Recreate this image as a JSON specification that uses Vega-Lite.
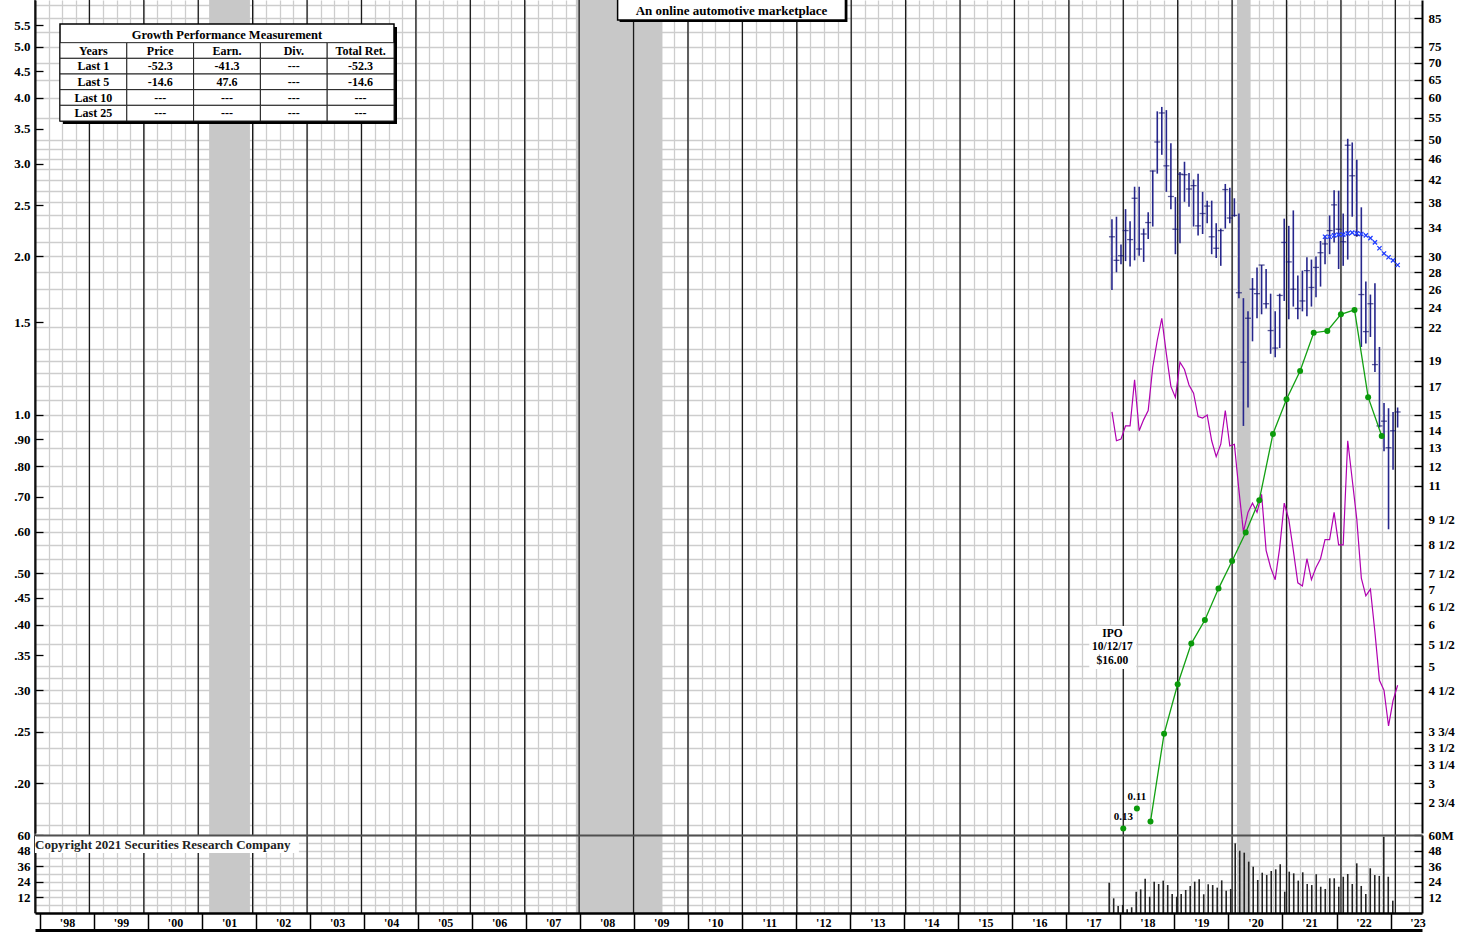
{
  "$schema": "https://vega.github.io/schema/vega-lite/v6.json",
  "width": 1387,
  "height": 913,
  "autosize": "none",
  "padding": {"left": 35, "top": 0, "right": 53, "bottom": 22},
  "background": "white",
  "config": {
    "view": {"stroke": null},
    "font": "Liberation Serif",
    "axis": {"labelFont": "Liberation Serif", "labelFontWeight": "bold", "labelFontSize": 13, "labelColor": "black", "labelOverlap": false, "labelFlush": false, "labelBound": false, "title": null}
  },
  "datasets": {
    "one": [{}],
    "bands": [{"start": 2001.2, "end": 2001.95}, {"start": 2007.94, "end": 2009.53}, {"start": 2020.09, "end": 2020.34}],
    "years": [{"year": 1998},{"year": 1999},{"year": 2000},{"year": 2001},{"year": 2002},{"year": 2003},{"year": 2004},{"year": 2005},{"year": 2006},{"year": 2007},{"year": 2008},{"year": 2009},{"year": 2010},{"year": 2011},{"year": 2012},{"year": 2013},{"year": 2014},{"year": 2015},{"year": 2016},{"year": 2017},{"year": 2018},{"year": 2019},{"year": 2020},{"year": 2021},{"year": 2022},{"year": 2023}],
    "prices": [
      {"t":2017.792,"h":35.3,"l":25.9,"c":32.7,"rs":15.2,"v":23.3},
      {"t":2017.875,"h":35.7,"l":28.0,"c":29.5,"rs":13.4,"v":11.3},
      {"t":2017.958,"h":31.6,"l":29.0,"c":30.1,"rs":13.5,"v":5.4},
      {"t":2018.042,"h":36.9,"l":29.4,"c":33.6,"rs":14.3,"v":6.2},
      {"t":2018.125,"h":35.0,"l":28.7,"c":32.3,"rs":14.3,"v":2.8},
      {"t":2018.208,"h":40.7,"l":29.5,"c":38.7,"rs":17.5,"v":4.4},
      {"t":2018.292,"h":40.7,"l":30.1,"c":31.0,"rs":14.0,"v":16.4},
      {"t":2018.375,"h":33.9,"l":29.3,"c":33.1,"rs":14.7,"v":18.2},
      {"t":2018.458,"h":36.4,"l":32.4,"c":34.8,"rs":15.3,"v":26.4},
      {"t":2018.542,"h":43.7,"l":34.2,"c":43.6,"rs":18.5,"v":12.5},
      {"t":2018.625,"h":56.6,"l":43.1,"c":49.5,"rs":20.8,"v":24.1},
      {"t":2018.708,"h":57.7,"l":46.8,"c":56.2,"rs":22.9,"v":22.3},
      {"t":2018.792,"h":56.9,"l":39.8,"c":44.6,"rs":19.6,"v":24.9},
      {"t":2018.875,"h":49.2,"l":36.9,"c":39.0,"rs":17.0,"v":21.5},
      {"t":2018.958,"h":38.9,"l":30.3,"c":33.8,"rs":16.2,"v":14.6},
      {"t":2019.042,"h":43.4,"l":31.8,"c":43.0,"rs":18.9,"v":12.5},
      {"t":2019.125,"h":45.4,"l":38.1,"c":42.9,"rs":18.3,"v":14.6},
      {"t":2019.208,"h":43.2,"l":37.3,"c":40.3,"rs":17.1,"v":17.7},
      {"t":2019.292,"h":42.0,"l":34.2,"c":40.9,"rs":16.5,"v":20.8},
      {"t":2019.375,"h":43.1,"l":32.9,"c":34.3,"rs":14.9,"v":24.1},
      {"t":2019.458,"h":39.8,"l":33.1,"c":36.2,"rs":14.8,"v":25.9},
      {"t":2019.542,"h":38.3,"l":34.7,"c":37.4,"rs":15.0,"v":14.4},
      {"t":2019.625,"h":38.3,"l":30.3,"c":32.7,"rs":13.4,"v":22.1},
      {"t":2019.708,"h":34.7,"l":29.8,"c":31.1,"rs":12.5,"v":21.5},
      {"t":2019.792,"h":33.9,"l":28.8,"c":33.6,"rs":13.2,"v":19.5},
      {"t":2019.875,"h":41.2,"l":33.9,"c":40.2,"rs":15.3,"v":25.1},
      {"t":2019.958,"h":40.5,"l":34.7,"c":35.5,"rs":13.1,"v":17.2},
      {"t":2020.042,"h":38.7,"l":35.7,"c":35.9,"rs":13.2,"v":18.5},
      {"t":2020.125,"h":36.2,"l":25.0,"c":25.6,"rs":10.8,"v":53.6},
      {"t":2020.208,"h":25.0,"l":14.3,"c":18.9,"rs":9.0,"v":47.9},
      {"t":2020.292,"h":23.6,"l":15.5,"c":22.9,"rs":9.8,"v":46.4},
      {"t":2020.375,"h":27.3,"l":20.7,"c":26.0,"rs":10.2,"v":39.5},
      {"t":2020.458,"h":28.6,"l":22.9,"c":25.5,"rs":9.8,"v":35.6},
      {"t":2020.542,"h":28.9,"l":23.3,"c":28.9,"rs":10.6,"v":25.4},
      {"t":2020.625,"h":28.4,"l":23.9,"c":24.4,"rs":8.3,"v":31.0},
      {"t":2020.708,"h":25.5,"l":19.6,"c":21.7,"rs":7.7,"v":29.2},
      {"t":2020.792,"h":23.6,"l":19.3,"c":20.1,"rs":7.3,"v":32.3},
      {"t":2020.875,"h":25.5,"l":20.1,"c":25.3,"rs":8.4,"v":33.6},
      {"t":2020.958,"h":35.4,"l":24.7,"c":31.9,"rs":10.2,"v":37.5},
      {"t":2021.042,"h":34.3,"l":22.8,"c":29.3,"rs":9.5,"v":16.4},
      {"t":2021.125,"h":36.7,"l":24.1,"c":26.0,"rs":8.3,"v":31.8},
      {"t":2021.208,"h":27.6,"l":22.8,"c":23.9,"rs":7.2,"v":30.5},
      {"t":2021.292,"h":28.2,"l":23.6,"c":24.7,"rs":7.1,"v":24.9},
      {"t":2021.375,"h":29.9,"l":23.1,"c":28.2,"rs":8.0,"v":31.3},
      {"t":2021.458,"h":29.6,"l":24.1,"c":26.2,"rs":7.3,"v":22.3},
      {"t":2021.542,"h":30.0,"l":25.1,"c":28.6,"rs":7.7,"v":21.5},
      {"t":2021.625,"h":32.1,"l":26.3,"c":30.5,"rs":8.0,"v":29.8},
      {"t":2021.708,"h":32.9,"l":29.0,"c":31.7,"rs":8.7,"v":20.2,"pv":32.7},
      {"t":2021.792,"h":35.9,"l":30.3,"c":33.6,"rs":8.7,"v":18.5,"pv":32.7},
      {"t":2021.875,"h":40.1,"l":31.9,"c":37.6,"rs":9.8,"v":26.7,"pv":32.9},
      {"t":2021.958,"h":40.0,"l":28.4,"c":33.8,"rs":8.5,"v":26.7,"pv":33.0},
      {"t":2022.042,"h":36.2,"l":28.8,"c":32.0,"rs":8.5,"v":20.2,"pv":33.0},
      {"t":2022.125,"h":50.2,"l":29.6,"c":48.8,"rs":13.4,"v":27.9,"pv":33.2},
      {"t":2022.208,"h":49.4,"l":35.7,"c":42.7,"rs":11.3,"v":30.0,"pv":33.3},
      {"t":2022.292,"h":45.8,"l":32.7,"c":32.9,"rs":9.5,"v":22.3,"pv":33.2},
      {"t":2022.375,"h":37.2,"l":20.2,"c":25.4,"rs":7.35,"v":38.2,"pv":33.1},
      {"t":2022.458,"h":26.9,"l":20.5,"c":21.6,"rs":6.8,"v":20.8,"pv":32.9},
      {"t":2022.542,"h":25.4,"l":21.1,"c":24.4,"rs":7.0,"v":14.6,"pv":32.5},
      {"t":2022.625,"h":26.7,"l":18.1,"c":18.7,"rs":5.8,"v":34.4,"pv":31.9},
      {"t":2022.708,"h":20.2,"l":14.2,"c":14.3,"rs":4.7,"v":29.2,"pv":31.1},
      {"t":2022.792,"h":15.8,"l":12.8,"c":14.6,"rs":4.5,"v":28.5,"pv":30.4},
      {"t":2022.875,"h":15.45,"l":9.1,"c":13.0,"rs":3.85,"v":58.7,"pv":29.9},
      {"t":2022.958,"h":15.2,"l":11.8,"c":14.0,"rs":4.3,"v":27.9,"pv":29.5},
      {"t":2023.042,"h":15.5,"l":14.2,"c":15.2,"rs":4.6,"v":9.5,"pv":28.9}
    ],
    "eps": [
      {"t":2018.0,"e":0.164,"label":"0.13","conn":false},
      {"t":2018.25,"e":0.179,"label":"0.11","conn":false},
      {"t":2018.5,"e":0.169,"conn":true},
      {"t":2018.75,"e":0.248,"conn":true},
      {"t":2019.0,"e":0.308,"conn":true},
      {"t":2019.25,"e":0.368,"conn":true},
      {"t":2019.5,"e":0.408,"conn":true},
      {"t":2019.75,"e":0.468,"conn":true},
      {"t":2020.0,"e":0.528,"conn":true},
      {"t":2020.25,"e":0.598,"conn":true},
      {"t":2020.5,"e":0.689,"conn":true},
      {"t":2020.75,"e":0.920,"conn":true},
      {"t":2021.0,"e":1.071,"conn":true},
      {"t":2021.25,"e":1.212,"conn":true},
      {"t":2021.5,"e":1.433,"conn":true},
      {"t":2021.75,"e":1.444,"conn":true},
      {"t":2022.0,"e":1.553,"conn":true},
      {"t":2022.25,"e":1.583,"conn":true},
      {"t":2022.5,"e":1.081,"conn":true},
      {"t":2022.75,"e":0.912,"conn":true}
    ],
    "tbl": [
      {"row":"head","col":"Years","text":"Years"},{"row":"head","col":"Price","text":"Price"},{"row":"head","col":"Earn.","text":"Earn."},{"row":"head","col":"Div.","text":"Div."},{"row":"head","col":"Total Ret.","text":"Total Ret."},
      {"row":"Last 1","col":"Years","text":"Last 1"},{"row":"Last 1","col":"Price","text":"-52.3"},{"row":"Last 1","col":"Earn.","text":"-41.3"},{"row":"Last 1","col":"Div.","text":"---"},{"row":"Last 1","col":"Total Ret.","text":"-52.3"},
      {"row":"Last 5","col":"Years","text":"Last 5"},{"row":"Last 5","col":"Price","text":"-14.6"},{"row":"Last 5","col":"Earn.","text":"47.6"},{"row":"Last 5","col":"Div.","text":"---"},{"row":"Last 5","col":"Total Ret.","text":"-14.6"},
      {"row":"Last 10","col":"Years","text":"Last 10"},{"row":"Last 10","col":"Price","text":"---"},{"row":"Last 10","col":"Earn.","text":"---"},{"row":"Last 10","col":"Div.","text":"---"},{"row":"Last 10","col":"Total Ret.","text":"---"},
      {"row":"Last 25","col":"Years","text":"Last 25"},{"row":"Last 25","col":"Price","text":"---"},{"row":"Last 25","col":"Earn.","text":"---"},{"row":"Last 25","col":"Div.","text":"---"},{"row":"Last 25","col":"Total Ret.","text":"---"}
    ]
  },
  "layer": [
    {
      "data": {"name": "bands"},
      "mark": {"type": "rect", "fill": "#c8c8c8"},
      "encoding": {
        "x": {"field": "start", "type": "quantitative", "scale": {"type": "linear", "domain": [1998, 2023.49], "nice": false, "zero": false},
          "axis": {"orient": "bottom", "values": [1998,1998.25,1998.5,1998.75,1999,1999.25,1999.5,1999.75,2000,2000.25,2000.5,2000.75,2001,2001.25,2001.5,2001.75,2002,2002.25,2002.5,2002.75,2003,2003.25,2003.5,2003.75,2004,2004.25,2004.5,2004.75,2005,2005.25,2005.5,2005.75,2006,2006.25,2006.5,2006.75,2007,2007.25,2007.5,2007.75,2008,2008.25,2008.5,2008.75,2009,2009.25,2009.5,2009.75,2010,2010.25,2010.5,2010.75,2011,2011.25,2011.5,2011.75,2012,2012.25,2012.5,2012.75,2013,2013.25,2013.5,2013.75,2014,2014.25,2014.5,2014.75,2015,2015.25,2015.5,2015.75,2016,2016.25,2016.5,2016.75,2017,2017.25,2017.5,2017.75,2018,2018.25,2018.5,2018.75,2019,2019.25,2019.5,2019.75,2020,2020.25,2020.5,2020.75,2021,2021.25,2021.5,2021.75,2022,2022.25,2022.5,2022.75,2023,2023.25],
            "grid": true, "gridColor": "#cdcdcd", "gridWidth": 1.3, "ticks": false, "labels": false, "domain": false}},
        "x2": {"field": "end"}
      }
    },
    {
      "data": {"name": "years"},
      "mark": {"type": "rule", "color": "#1a1a1a", "strokeWidth": 1.3},
      "encoding": {
        "x": {"field": "year", "type": "quantitative", "scale": {"type": "linear", "domain": [1998, 2023.49], "nice": false, "zero": false}, "axis": null}
      }
    },
    {
      "data": {"name": "prices"},
      "mark": {"type": "rule", "color": "#26268c", "strokeWidth": 1.6},
      "encoding": {
        "x": {"field": "t", "type": "quantitative", "scale": {"type": "linear", "domain": [1998, 2023.49], "nice": false, "zero": false}, "axis": null},
        "y": {"field": "h", "type": "quantitative", "scale": {"type": "log", "domain": [2.411, 92.1], "range": [833, 0], "nice": false, "zero": false},
          "axis": {"orient": "right", "values": [2.5,2.75,3,3.25,3.5,3.75,4,4.25,4.5,4.75,5,5.5,6,6.5,7,7.5,8,8.5,9,9.5,10,11,12,13,14,15,16,17,18,19,20,22,24,26,28,30,32,34,36,38,40,42,44,46,48,50,55,60,65,70,75,80,85,90],
            "grid": true, "gridColor": "#cdcdcd", "gridWidth": 1.3,
            "domain": true, "domainColor": "black", "domainWidth": 2,
            "ticks": true, "tickColor": "black", "tickWidth": 1.3, "tickSize": -8,
            "tickOpacity": {"condition": {"test": "indexof([2.75,3,3.25,3.5,3.75,4.5,5,5.5,6,6.5,7,7.5,8.5,9.5,11,12,13,14,15,17,19,22,24,26,28,30,34,38,42,46,50,55,60,65,70,75,85], datum.value) >= 0", "value": 1}, "value": 0},
            "labelPadding": 14,
            "labelExpr": "indexof([2.75,3,3.25,3.5,3.75,4.5,5,5.5,6,6.5,7,7.5,8.5,9.5,11,12,13,14,15,17,19,22,24,26,28,30,34,38,42,46,50,55,60,65,70,75,85], datum.value) < 0 ? '' : (floor(datum.value) + (datum.value % 1 == 0.25 ? ' 1/4' : datum.value % 1 == 0.5 ? ' 1/2' : datum.value % 1 == 0.75 ? ' 3/4' : ''))"}},
        "y2": {"field": "l"}
      }
    },
    {
      "data": {"name": "prices"},
      "mark": {"type": "tick", "orient": "horizontal", "color": "#14146e", "size": 6, "thickness": 1.3},
      "encoding": {
        "x": {"field": "t", "type": "quantitative", "scale": {"type": "linear", "domain": [1998, 2023.49], "nice": false, "zero": false}, "axis": null},
        "y": {"field": "c", "type": "quantitative", "scale": {"type": "log", "domain": [2.411, 92.1], "range": [833, 0], "nice": false, "zero": false}, "axis": null}
      }
    },
    {
      "data": {"name": "prices"},
      "mark": {"type": "line", "color": "#b000b0", "strokeWidth": 1.2},
      "encoding": {
        "x": {"field": "t", "type": "quantitative", "scale": {"type": "linear", "domain": [1998, 2023.49], "nice": false, "zero": false}, "axis": null},
        "y": {"field": "rs", "type": "quantitative", "scale": {"type": "log", "domain": [2.411, 92.1], "range": [833, 0], "nice": false, "zero": false}, "axis": null}
      }
    },
    {
      "data": {"name": "prices"},
      "transform": [{"filter": "isValid(datum.pv)"}],
      "mark": {"type": "point", "shape": "M-1,-1L1,1M-1,1L1,-1", "filled": false, "size": 18, "stroke": "#1f3cff", "strokeWidth": 1.3, "opacity": 1},
      "encoding": {
        "x": {"field": "t", "type": "quantitative", "scale": {"type": "linear", "domain": [1998, 2023.49], "nice": false, "zero": false}, "axis": null},
        "y": {"field": "pv", "type": "quantitative", "scale": {"type": "log", "domain": [2.411, 92.1], "range": [833, 0], "nice": false, "zero": false}, "axis": null}
      }
    },
    {
      "data": {"name": "one"},
      "mark": {"type": "rect", "fill": "white"},
      "encoding": {
        "x": {"datum": 2017.376, "type": "quantitative", "scale": {"type": "linear", "domain": [1998, 2023.49], "nice": false, "zero": false}, "axis": null},
        "x2": {"datum": 2018.239},
        "y": {"datum": 5.96, "type": "quantitative", "scale": {"type": "log", "domain": [2.411, 92.1], "range": [833, 0], "nice": false, "zero": false}, "axis": null},
        "y2": {"datum": 4.94}
      }
    },
    {
      "data": {"name": "one"},
      "mark": {"type": "text", "fontWeight": "bold", "fontSize": 11.5, "lineHeight": 13.5, "align": "center", "baseline": "middle", "color": "black"},
      "encoding": {
        "x": {"datum": 2017.8, "type": "quantitative", "scale": {"type": "linear", "domain": [1998, 2023.49], "nice": false, "zero": false}, "axis": null},
        "y": {"datum": 5.76, "type": "quantitative", "scale": {"type": "log", "domain": [2.411, 92.1], "range": [833, 0], "nice": false, "zero": false}, "axis": null},
        "text": {"value": ["IPO", "10/12/17", "$16.00"]}
      }
    },
    {
      "data": {"name": "one"},
      "mark": {"type": "rect", "fill": "black", "xOffset": 2, "x2Offset": 2, "yOffset": 2, "y2Offset": 2},
      "encoding": {
        "x": {"datum": 2008.707, "type": "quantitative", "scale": {"type": "linear", "domain": [1998, 2023.49], "nice": false, "zero": false}, "axis": null},
        "x2": {"datum": 2012.894},
        "y": {"datum": 84.4, "type": "quantitative", "scale": {"type": "log", "domain": [2.411, 92.1], "range": [833, 0], "nice": false, "zero": false}, "axis": null},
        "y2": {"datum": 100}
      }
    },
    {
      "data": {"name": "one"},
      "mark": {"type": "rect", "fill": "white", "stroke": "black", "strokeWidth": 1.5},
      "encoding": {
        "x": {"datum": 2008.707, "type": "quantitative", "scale": {"type": "linear", "domain": [1998, 2023.49], "nice": false, "zero": false}, "axis": null},
        "x2": {"datum": 2012.894},
        "y": {"datum": 84.4, "type": "quantitative", "scale": {"type": "log", "domain": [2.411, 92.1], "range": [833, 0], "nice": false, "zero": false}, "axis": null},
        "y2": {"datum": 100}
      }
    },
    {
      "data": {"name": "one"},
      "mark": {"type": "text", "fontWeight": "bold", "fontSize": 13, "align": "center", "baseline": "middle", "color": "black"},
      "encoding": {
        "x": {"datum": 2010.8, "type": "quantitative", "scale": {"type": "linear", "domain": [1998, 2023.49], "nice": false, "zero": false}, "axis": null},
        "y": {"datum": 87.8, "type": "quantitative", "scale": {"type": "log", "domain": [2.411, 92.1], "range": [833, 0], "nice": false, "zero": false}, "axis": null},
        "text": {"value": "An online automotive marketplace"}
      }
    },
    {
      "data": {"name": "eps"},
      "transform": [{"filter": "datum.conn"}],
      "mark": {"type": "line", "color": "#12a012", "strokeWidth": 1.3},
      "encoding": {
        "x": {"field": "t", "type": "quantitative", "scale": {"type": "linear", "domain": [1998, 2023.49], "nice": false, "zero": false},
          "axis": {"orient": "bottom", "offset": -78, "zindex": 1, "domain": true, "domainColor": "#505050", "domainWidth": 2.2, "ticks": false, "labels": false, "grid": false}},
        "y": {"field": "e", "type": "quantitative", "scale": {"type": "log", "domain": [0.16073, 6.14], "range": [833, 0], "nice": false, "zero": false},
          "axis": {"orient": "left", "values": [0.2,0.25,0.3,0.35,0.4,0.45,0.5,0.6,0.7,0.8,0.9,1,1.5,2,2.5,3,3.5,4,4.5,5,5.5],
            "grid": false, "domain": true, "domainColor": "black", "domainWidth": 2,
            "ticks": true, "tickColor": "black", "tickWidth": 1.3, "tickSize": -8, "labelPadding": 13,
            "labelExpr": "datum.value >= 1 ? format(datum.value, '.1f') : replace(format(datum.value, '.2f'), '0.', '.')"}}
      }
    },
    {
      "data": {"name": "eps"},
      "mark": {"type": "point", "filled": true, "color": "#0a9a0a", "size": 36, "opacity": 1},
      "encoding": {
        "x": {"field": "t", "type": "quantitative", "scale": {"type": "linear", "domain": [1998, 2023.49], "nice": false, "zero": false}, "axis": null},
        "y": {"field": "e", "type": "quantitative", "scale": {"type": "log", "domain": [0.16073, 6.14], "range": [833, 0], "nice": false, "zero": false}, "axis": null}
      }
    },
    {
      "data": {"name": "eps"},
      "transform": [{"filter": "isValid(datum.label)"}],
      "mark": {"type": "text", "fontWeight": "bold", "fontSize": 11, "dy": -11, "color": "black"},
      "encoding": {
        "x": {"field": "t", "type": "quantitative", "scale": {"type": "linear", "domain": [1998, 2023.49], "nice": false, "zero": false}, "axis": null},
        "y": {"field": "e", "type": "quantitative", "scale": {"type": "log", "domain": [0.16073, 6.14], "range": [833, 0], "nice": false, "zero": false}, "axis": null},
        "text": {"field": "label"}
      }
    },
    {
      "data": {"name": "prices"},
      "mark": {"type": "bar", "color": "#222222", "size": 1.6},
      "encoding": {
        "x": {"field": "t", "type": "quantitative", "scale": {"type": "linear", "domain": [1998, 2023.49], "nice": false, "zero": false},
          "axis": {"orient": "bottom", "zindex": 1, "values": [1998,1999,2000,2001,2002,2003,2004,2005,2006,2007,2008,2009,2010,2011,2012,2013,2014,2015,2016,2017,2018,2019,2020,2021,2022,2023],
            "domain": true, "domainColor": "black", "domainWidth": 2.5, "ticks": true, "tickColor": "black", "tickWidth": 1.5, "tickSize": 17, "labels": false, "grid": false}},
        "y": {"field": "v", "type": "quantitative", "scale": {"type": "linear", "domain": [0, 60], "range": [913, 835], "nice": false, "zero": true},
          "axis": {"orient": "left", "values": [6,12,18,24,30,36,42,48,54,60], "grid": true, "gridColor": "#cdcdcd", "gridWidth": 1.3,
            "domain": true, "domainColor": "black", "domainWidth": 2, "ticks": true, "tickColor": "black", "tickWidth": 1.3, "tickSize": -8,
            "tickOpacity": {"condition": {"test": "datum.value % 12 == 0", "value": 1}, "value": 0},
            "labelPadding": 13, "labelExpr": "datum.value % 12 == 0 ? format(datum.value, 'd') : ''"}}
      }
    },
    {
      "data": {"name": "one"},
      "mark": {"type": "rect", "fill": "white"},
      "encoding": {
        "x": {"datum": 1998.0, "type": "quantitative", "scale": {"type": "linear", "domain": [1998, 2023.49], "nice": false, "zero": false}, "axis": null},
        "x2": {"datum": 2002.85},
        "y": {"datum": 59.2, "type": "quantitative", "scale": {"type": "linear", "domain": [0, 60], "range": [913, 835], "nice": false, "zero": true}, "axis": null},
        "y2": {"datum": 46.2}
      }
    },
    {
      "data": {"name": "one"},
      "mark": {"type": "text", "fontWeight": "bold", "fontSize": 13, "align": "left", "baseline": "middle", "color": "#222222"},
      "encoding": {
        "x": {"datum": 1998.0, "type": "quantitative", "scale": {"type": "linear", "domain": [1998, 2023.49], "nice": false, "zero": false}, "axis": null},
        "y": {"datum": 52.5, "type": "quantitative", "scale": {"type": "linear", "domain": [0, 60], "range": [913, 835], "nice": false, "zero": true}, "axis": null},
        "text": {"value": "Copyright 2021 Securities Research Company"}
      }
    },
    {
      "data": {"name": "prices"},
      "mark": {"type": "bar", "color": "#222222", "size": 1.6, "opacity": 0},
      "encoding": {
        "x": {"field": "t", "type": "quantitative", "scale": {"type": "linear", "domain": [1998, 2023.49], "nice": false, "zero": false},
          "axis": {"orient": "bottom", "values": [1998,1999,2000,2001,2002,2003,2004,2005,2006,2007,2008,2009,2010,2011,2012,2013,2014,2015,2016,2017,2018,2019,2020,2021,2022,2023],
            "domain": false, "ticks": false, "grid": false, "labelPadding": 4, "labelOffset": 27, "labelFontSize": 12,
            "labelExpr": "\"'\" + slice(toString(datum.value), 2)"}},
        "y": {"field": "v", "type": "quantitative", "scale": {"type": "linear", "domain": [0, 60], "range": [913, 835], "nice": false, "zero": true},
          "axis": {"orient": "right", "values": [12,24,36,48,60], "grid": false,
            "domain": true, "domainColor": "black", "domainWidth": 2, "ticks": true, "tickColor": "black", "tickWidth": 1.3, "tickSize": -8,
            "labelPadding": 14, "labelExpr": "datum.value == 60 ? '60M' : format(datum.value, 'd')"}}
      }
    },
    {
      "data": {"name": "years"},
      "mark": {"type": "rule", "opacity": 0},
      "encoding": {
        "x": {"field": "year", "type": "quantitative", "scale": {"type": "linear", "domain": [1998, 2023.49], "nice": false, "zero": false},
          "axis": {"orient": "bottom", "offset": 17, "domain": true, "domainColor": "black", "domainWidth": 3, "ticks": false, "labels": false, "grid": false}}
      }
    },
    {
      "data": {"name": "one"},
      "mark": {"type": "rect", "fill": "black", "xOffset": 3, "x2Offset": 3, "yOffset": 0, "y2Offset": 3},
      "encoding": {
        "x": {"datum": "Years", "type": "nominal", "bandPosition": 0, "scale": {"type": "band", "domain": ["Years","Price","Earn.","Div.","Total Ret."], "range": [25, 359], "paddingInner": 0, "paddingOuter": 0}, "axis": null},
        "x2": {"datum": "Total Ret.", "bandPosition": 1},
        "y": {"datum": "title", "type": "nominal", "bandPosition": 0, "scale": {"type": "band", "domain": ["title","head","Last 1","Last 5","Last 10","Last 25"], "range": [27, 121], "paddingInner": 0, "paddingOuter": 0}, "axis": null},
        "y2": {"datum": "Last 25", "bandPosition": 1}
      }
    },
    {
      "data": {"name": "one"},
      "mark": {"type": "rect", "fill": "white", "stroke": "black", "strokeWidth": 1.5, "yOffset": -3},
      "encoding": {
        "x": {"datum": "Years", "type": "nominal", "bandPosition": 0, "scale": {"type": "band", "domain": ["Years","Price","Earn.","Div.","Total Ret."], "range": [25, 359], "paddingInner": 0, "paddingOuter": 0}, "axis": null},
        "x2": {"datum": "Total Ret.", "bandPosition": 1},
        "y": {"datum": "title", "type": "nominal", "bandPosition": 0, "scale": {"type": "band", "domain": ["title","head","Last 1","Last 5","Last 10","Last 25"], "range": [27, 121], "paddingInner": 0, "paddingOuter": 0}, "axis": null},
        "y2": {"datum": "Last 25", "bandPosition": 1}
      }
    },
    {
      "data": {"name": "tbl"},
      "mark": {"type": "rect", "fill": "white", "stroke": "#222222", "strokeWidth": 1},
      "encoding": {
        "x": {"field": "col", "type": "nominal", "scale": {"type": "band", "domain": ["Years","Price","Earn.","Div.","Total Ret."], "range": [25, 359], "paddingInner": 0, "paddingOuter": 0}, "axis": null},
        "y": {"field": "row", "type": "nominal", "scale": {"type": "band", "domain": ["title","head","Last 1","Last 5","Last 10","Last 25"], "range": [27, 121], "paddingInner": 0, "paddingOuter": 0}, "axis": null}
      }
    },
    {
      "data": {"name": "tbl"},
      "mark": {"type": "text", "fontWeight": "bold", "fontSize": 12, "align": "center", "baseline": "middle", "color": "black"},
      "encoding": {
        "x": {"field": "col", "type": "nominal", "scale": {"type": "band", "domain": ["Years","Price","Earn.","Div.","Total Ret."], "range": [25, 359], "paddingInner": 0, "paddingOuter": 0}, "axis": null},
        "y": {"field": "row", "type": "nominal", "scale": {"type": "band", "domain": ["title","head","Last 1","Last 5","Last 10","Last 25"], "range": [27, 121], "paddingInner": 0, "paddingOuter": 0}, "axis": null},
        "text": {"field": "text"}
      }
    },
    {
      "data": {"name": "one"},
      "mark": {"type": "text", "fontWeight": "bold", "fontSize": 12.5, "align": "center", "baseline": "middle", "color": "black"},
      "encoding": {
        "x": {"datum": "Earn.", "type": "nominal", "scale": {"type": "band", "domain": ["Years","Price","Earn.","Div.","Total Ret."], "range": [25, 359], "paddingInner": 0, "paddingOuter": 0}, "axis": null},
        "y": {"datum": "title", "type": "nominal", "scale": {"type": "band", "domain": ["title","head","Last 1","Last 5","Last 10","Last 25"], "range": [27, 121], "paddingInner": 0, "paddingOuter": 0}, "axis": null},
        "text": {"value": "Growth Performance Measurement"}
      }
    }
  ],
  "resolve": {"scale": {"x": "independent", "y": "independent"}, "axis": {"x": "independent", "y": "independent"}}
}
